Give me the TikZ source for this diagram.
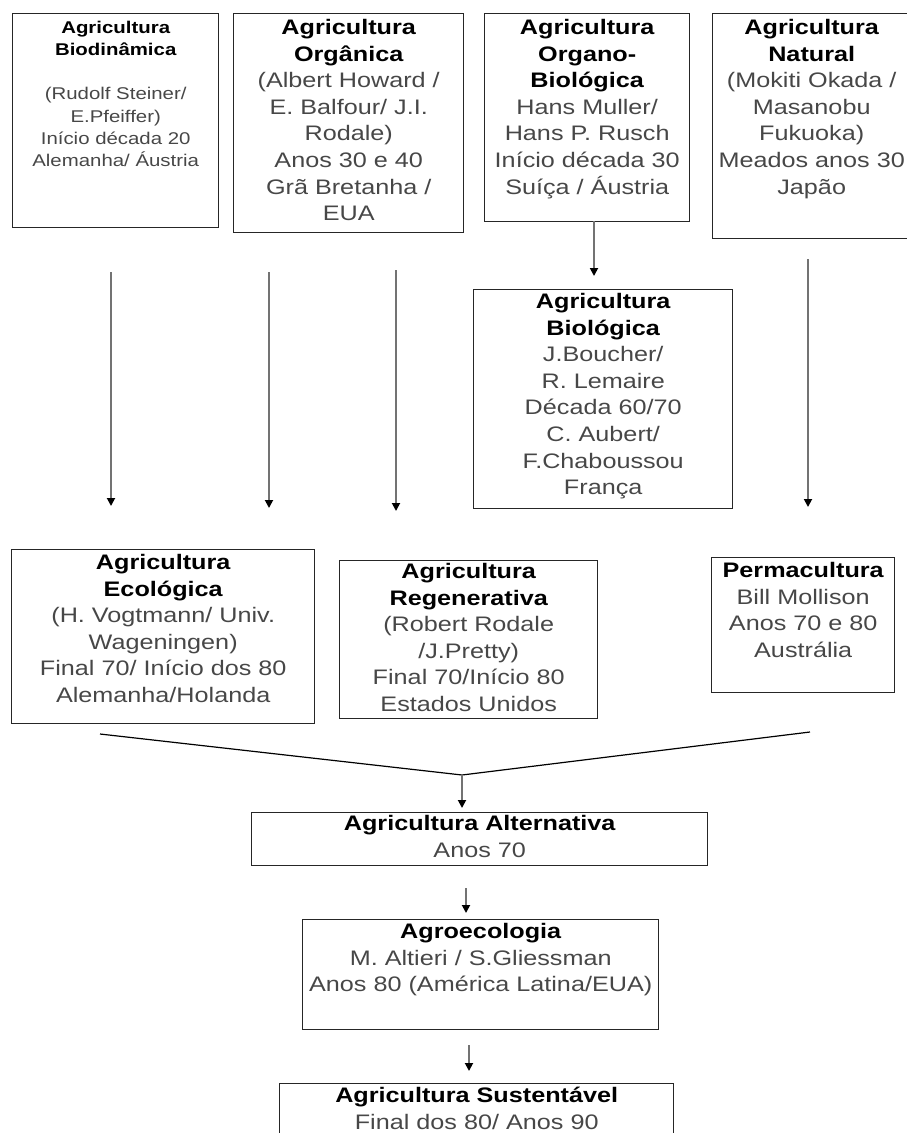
\documentclass[tikz,border=0pt]{standalone}
\usepackage{fontspec}
\setmainfont{Liberation Sans}[FakeStretch=1.2]
\usetikzlibrary{arrows.meta,positioning}
\newcommand{\titulo}[1]{{\color{black}\bfseries #1}}
\tikzset{
    caixa/.style={draw=black!85, line width=1.4pt, anchor=north west, inner sep=0pt},
    texto/.style={align=center, inner sep=0pt, text=black!72, font=\fontsize{21}{26.6}\selectfont},
    seta/.style={draw=black!55, line width=1.8pt, -{Triangle[length=8pt,width=8pt,color=black]}},
    ramo/.style={draw=black, line width=1.2pt}
}

\begin{document}
\begin{tikzpicture}[x=1pt,y=-1pt]
\useasboundingbox (0,0) rectangle (907,1133);
\clip (0,0) rectangle (907,1133);
% linha de cima
\node[caixa, minimum width=206, minimum height=214] (bio) at (12,13) {}; % biodinamica
\node[texto, font=\fontsize{17}{22.2}\selectfont, below=8pt of bio.north] (biot) {\titulo{Agricultura}\\\titulo{Biodinâmica}\\[22pt](Rudolf Steiner/\\E.Pfeiffer)\\Início década 20\\Alemanha/ Áustria};
\node[caixa, minimum width=230, minimum height=219] (org) at (233,13) {}; % organica
\node[texto, below=6pt of org.north] (orgt) {\titulo{Agricultura}\\\titulo{Orgânica}\\(Albert Howard /\\E. Balfour/ J.I.\\Rodale)\\Anos 30 e 40\\Grã Bretanha /\\EUA};
\node[caixa, minimum width=205, minimum height=208] (orb) at (484,13) {}; % organo-biologica
\node[texto, below=6pt of orb.north] (orbt) {\titulo{Agricultura}\\\titulo{Organo-}\\\titulo{Biológica}\\Hans Muller/\\Hans P. Rusch\\Início década 30\\Suíça / Áustria};
\node[caixa, minimum width=198, minimum height=225] (nat) at (712,13) {}; % natural
\node[texto, below=6pt of nat.north] (natt) {\titulo{Agricultura}\\\titulo{Natural}\\(Mokiti Okada /\\Masanobu\\Fukuoka)\\Meados anos 30\\Japão};
% biologica
\node[caixa, minimum width=259, minimum height=219] (biol) at (473,289) {};
\node[texto, below=4pt of biol.north] (biolt) {\titulo{Agricultura}\\\titulo{Biológica}\\J.Boucher/\\R. Lemaire\\Década 60/70\\C. Aubert/\\F.Chaboussou\\França};
% linha do meio
\node[caixa, minimum width=303, minimum height=174] (eco) at (11,549) {}; % ecologica
\node[texto, below=5pt of eco.north] (ecot) {\titulo{Agricultura}\\\titulo{Ecológica}\\(H. Vogtmann/ Univ.\\Wageningen)\\Final 70/ Início dos 80\\Alemanha/Holanda};
\node[caixa, minimum width=258, minimum height=158] (reg) at (339,560) {}; % regenerativa
\node[texto, below=3pt of reg.north] (regt) {\titulo{Agricultura}\\\titulo{Regenerativa}\\(Robert Rodale\\/J.Pretty)\\Final 70/Início 80\\Estados Unidos};
\node[caixa, minimum width=183, minimum height=135] (perm) at (711,557) {}; % permacultura
\node[texto, below=5pt of perm.north] (permt) {\titulo{Permacultura}\\Bill Mollison\\Anos 70 e 80\\Austrália};
% coluna de baixo
\node[caixa, minimum width=456, minimum height=53] (alt) at (251,812) {}; % alternativa
\node[texto, below=3pt of alt.north] (altt) {\titulo{Agricultura Alternativa}\\Anos 70};
\node[caixa, minimum width=356, minimum height=110] (agro) at (302,919) {}; % agroecologia
\node[texto, below=4pt of agro.north] (agrot) {\titulo{Agroecologia}\\M. Altieri / S.Gliessman\\Anos 80 (América Latina/EUA)};
\node[caixa, minimum width=394, minimum height=90] (sust) at (279,1083) {}; % sustentavel
\node[texto, below=4pt of sust.north] (sustt) {\titulo{Agricultura Sustentável}\\Final dos 80/ Anos 90};
% pontas soltas das setas
\coordinate (s1a) at (111,272); \coordinate (s1b) at (111,506);
\coordinate (s2a) at (269,272); \coordinate (s2b) at (269,508);
\coordinate (s3a) at (396,270); \coordinate (s3b) at (396,511);
\coordinate (s4a) at (808,259); \coordinate (s4b) at (808,507);
\coordinate (s5a) at (594,221); \coordinate (s5b) at (594,276);
\coordinate (ecol) at (100,734); \coordinate (perml) at (810,732);
\coordinate (juncao) at (462,775); \coordinate (s6b) at (462,808);
\coordinate (s7a) at (466,888); \coordinate (s7b) at (466,913);
\coordinate (s8a) at (469,1045); \coordinate (s8b) at (469,1071);
\draw[seta] (s1a) -- (s1b); % para ecologica
\draw[seta] (s2a) -- (s2b);
\draw[seta] (s3a) -- (s3b); % para regenerativa
\draw[seta] (s4a) -- (s4b); % para permacultura
\draw[seta] (s5a) -- (s5b); % organo-biologica -> biologica
\draw[ramo] (ecol) -- (juncao) -- (perml); % convergencia
\draw[seta] (juncao) -- (s6b); % -> alternativa
\draw[seta] (s7a) -- (s7b); % -> agroecologia
\draw[seta] (s8a) -- (s8b); % -> sustentavel
\end{tikzpicture}
\end{document}
